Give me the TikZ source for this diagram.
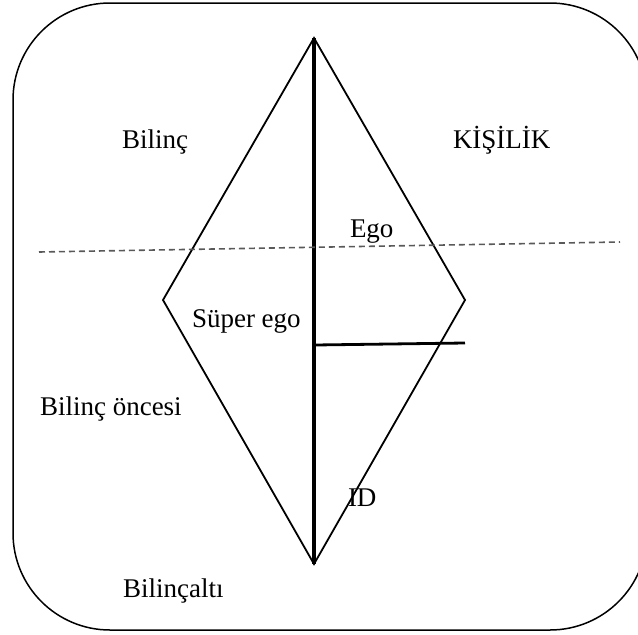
\documentclass[tikz,border=0pt]{standalone}
\usepackage{fontspec}
\setmainfont{Liberation Serif}
\begin{document}
\begin{tikzpicture}[x=1pt,y=-1pt,
  lbl/.style={anchor=base west,inner sep=0pt,outer sep=0pt,font=\fontsize{27}{32}\selectfont},
  frame/.style={draw=black,line width=1.5pt,rounded corners=97pt},
  edge/.style={draw=black,line width=1.8pt},
  axis/.style={draw=black,line width=3.6pt},
  split/.style={draw=black,line width=2.8pt},
  level/.style={draw=black!65,line width=1.6pt,dash pattern=on 6pt off 4pt}]
\useasboundingbox (0,0) rectangle (638,635);
% frame
\coordinate (f1) at (13,3);
\coordinate (f2) at (647,630);
\draw[frame] (f1) rectangle (f2);
% diamond vertices
\coordinate (top) at (314,38);
\coordinate (bot) at (314,564);
\coordinate (lft) at (163,300);
\coordinate (rgt) at (465,300);
\draw[edge,line join=miter] (top) -- (rgt) -- (bot) -- (lft) -- cycle;
\draw[axis] (top) -- (bot);
\coordinate (hs) at (315,345);
\coordinate (he) at (465,343);
\draw[split] (hs) -- (he);
% dashed level
\coordinate (d1) at (39,252);
\coordinate (d2) at (620,242);
\draw[level] (d1) -- (d2);
% labels
\node[lbl] (bilinc) at (122,148) {Bilinç};
\node[lbl] (kisilik) at (453,148) {KİŞİLİK};
\node[lbl] (ego) at (350,237) {Ego};
\node[lbl] (super) at (192,327) {Süper ego};
\node[lbl] (oncesi) at (40,415) {Bilinç öncesi};
\node[lbl] (id) at (348,506) {ID};
\node[lbl] (alti) at (123,597) {Bilinçaltı};
\end{tikzpicture}
\end{document}
